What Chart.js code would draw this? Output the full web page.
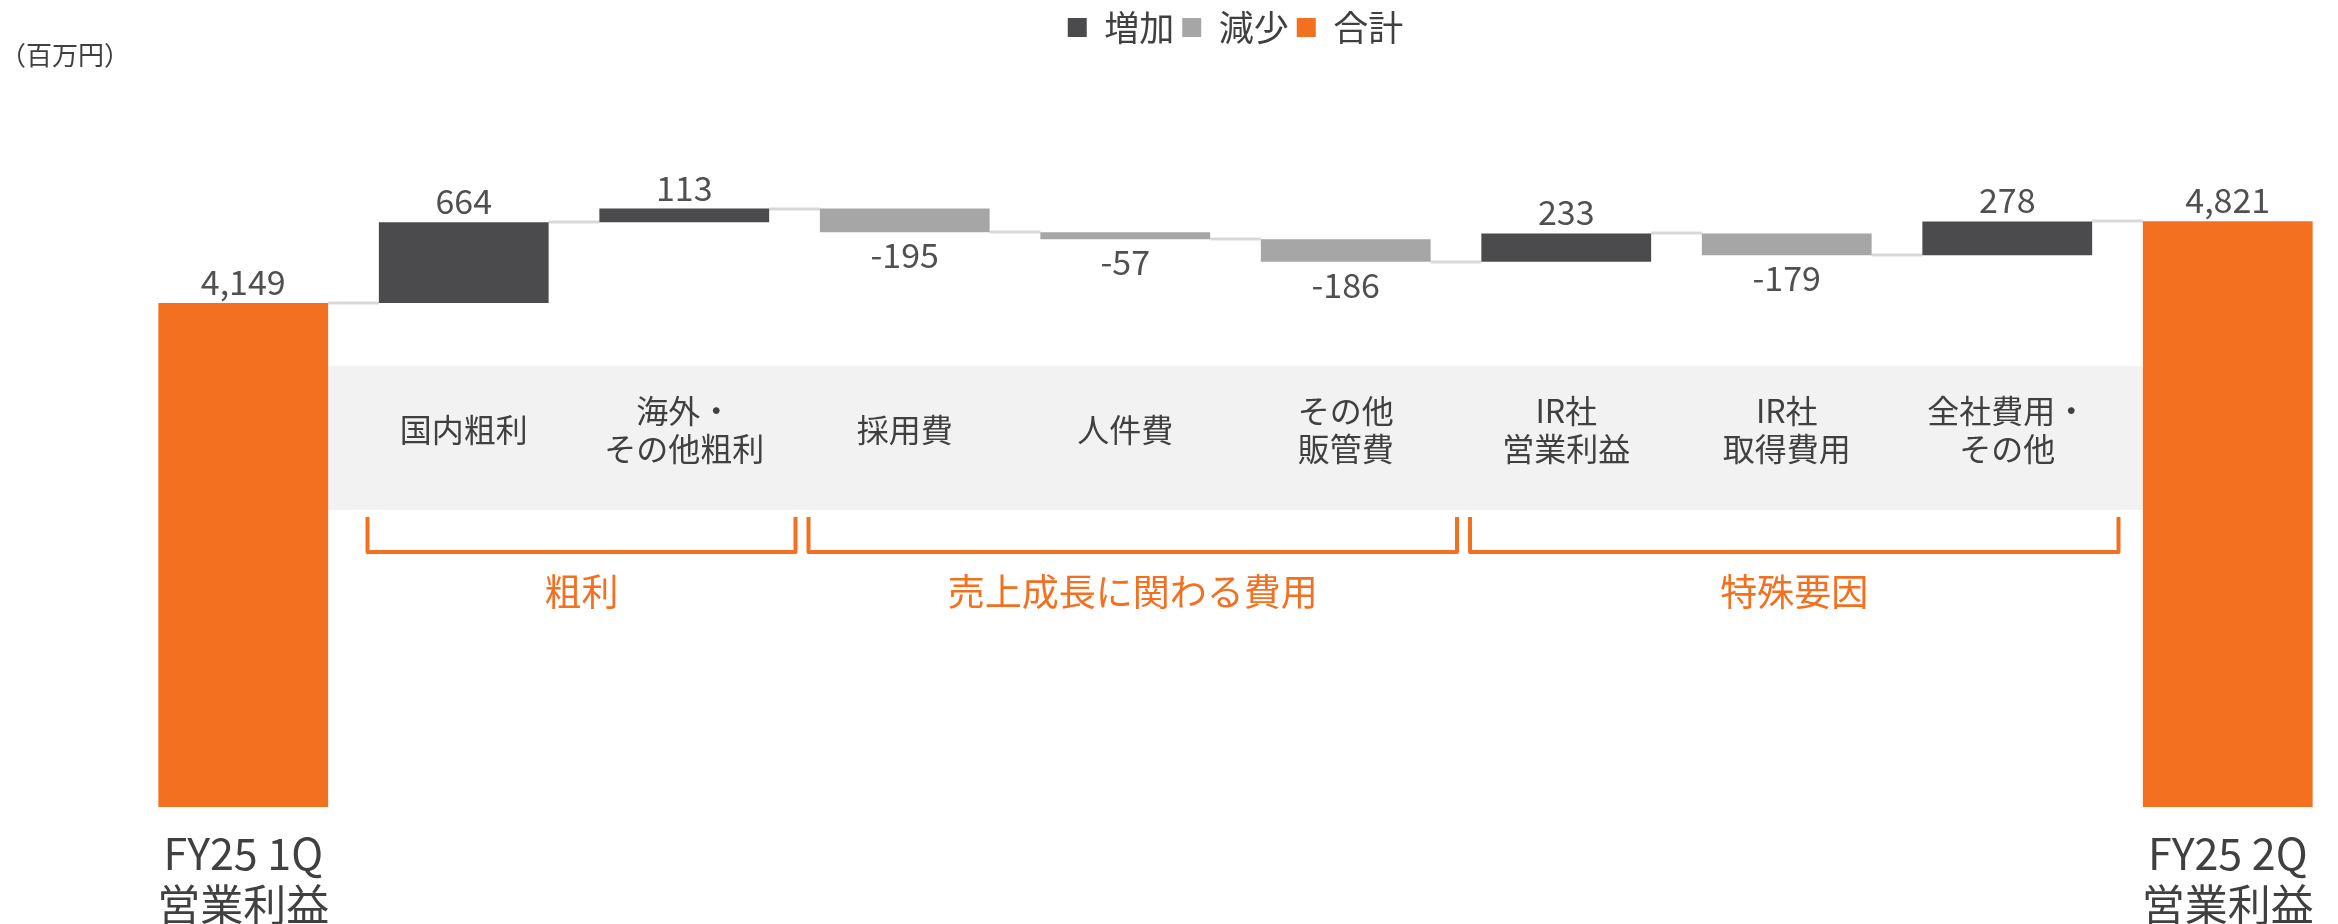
<!DOCTYPE html>
<html>
<head>
<meta charset="utf-8">
<script src="https://cdn.jsdelivr.net/npm/chart.js@4"></script>
<style>
  body { margin: 0; background: #fff; }
</style>
</head>
<body>
<canvas id="grafica" width="2338" height="924"></canvas>
<script>
const categories = ['FY25 1Q 営業利益', '国内粗利', '海外・その他粗利', '採用費', '人件費', 'その他販管費', 'IR社営業利益', 'IR社取得費用', '全社費用・その他', 'FY25 2Q 営業利益'];
const axisLabels = [['FY25 1Q', '営業利益'], '', '', '', '', '', '', '', '', ['FY25 2Q', '営業利益']];
const bandLabels = [null, ['国内粗利'], ['海外・', 'その他粗利'], ['採用費'], ['人件費'], ['その他', '販管費'], ['IR社', '営業利益'], ['IR社', '取得費用'], ['全社費用・', 'その他'], null];

const startTotal = 4149;
const endTotal = 4821;
const changes = [664, 113, -195, -57, -186, 233, -179, 278];

const groupLabels = ['粗利', '売上成長に関わる費用', '特殊要因'];
const groupFirst = [1, 3, 6];
const groupLast = [2, 5, 8];

const FONT = '"Noto Sans CJK JP", "Noto Sans", sans-serif';
const ORANGE = '#f37021';
const TEXT = '#505050';

// running totals -> floating bars
const barValues = [startTotal, ...changes, endTotal];
const levels = [startTotal];
const increaseData = [null];
const decreaseData = [null];
const totalData = [[0, startTotal]];
let running = startTotal;
changes.forEach(c => {
    const next = running + c;
    increaseData.push(c >= 0 ? [running, next] : null);
    decreaseData.push(c < 0 ? [next, running] : null);
    totalData.push(null);
    levels.push(next);
    running = next;
});
increaseData.push(null);
decreaseData.push(null);
totalData.push([0, endTotal]);
levels.push(endTotal);

const barOpts = { grouped: false, barPercentage: 0.77, categoryPercentage: 1 };

function barAt(chart, i) {
    for (let d = 0; d < chart.data.datasets.length; d++) {
        if (chart.data.datasets[d].data[i] != null) return chart.getDatasetMeta(d).data[i];
    }
    return null;
}

const decorations = {
    id: 'decorations',
    beforeDatasetsDraw(chart) {
        const ctx = chart.ctx;
        const x = chart.scales.x, y = chart.scales.y;
        const n = categories.length;
        const first = barAt(chart, 0), last = barAt(chart, n - 1);
        ctx.save();
        // grey band with item names
        const bandL = first.x + first.width / 2, bandR = last.x - last.width / 2;
        ctx.fillStyle = '#f2f2f2';
        ctx.fillRect(bandL, 366, bandR - bandL, 144);
        ctx.fillStyle = '#404040';
        ctx.font = '32px ' + FONT;
        ctx.textAlign = 'center';
        ctx.textBaseline = 'middle';
        bandLabels.forEach((lines, i) => {
            if (!lines) return;
            const cx = x.getPixelForValue(i);
            const y0 = 430 - (lines.length - 1) * 19;
            lines.forEach((t, k) => ctx.fillText(t, cx, y0 + k * 38));
        });
        // connectors
        ctx.strokeStyle = '#d9d9d9';
        ctx.lineWidth = 3;
        for (let i = 0; i < n - 1; i++) {
            const a = barAt(chart, i), b = barAt(chart, i + 1);
            const py = Math.round(y.getPixelForValue(levels[i]));
            ctx.beginPath();
            ctx.moveTo(a.x + a.width / 2, py);
            ctx.lineTo(b.x - b.width / 2, py);
            ctx.stroke();
        }
        // group brackets
        const slot = x.getPixelForValue(1) - x.getPixelForValue(0);
        ctx.strokeStyle = ORANGE;
        ctx.lineWidth = 4;
        ctx.lineJoin = 'round';
        ctx.fillStyle = ORANGE;
        ctx.font = '37px ' + FONT;
        groupLabels.forEach((label, g) => {
            const l = x.getPixelForValue(groupFirst[g]) - slot / 2 + 14;
            const r = x.getPixelForValue(groupLast[g]) + slot / 2 + 1;
            ctx.beginPath();
            ctx.moveTo(l, 517);
            ctx.lineTo(l, 552);
            ctx.lineTo(r, 552);
            ctx.lineTo(r, 517);
            ctx.stroke();
            ctx.fillText(label, (l + r) / 2, 592);
        });
        // unit
        ctx.fillStyle = '#404040';
        ctx.font = '26px ' + FONT;
        ctx.textAlign = 'left';
        ctx.fillText('（百万円）', 0, 55);
        ctx.restore();
    },
    afterDatasetsDraw(chart) {
        const ctx = chart.ctx;
        ctx.save();
        ctx.fillStyle = TEXT;
        ctx.font = '34px ' + FONT;
        ctx.textAlign = 'center';
        ctx.textBaseline = 'alphabetic';
        barValues.forEach((v, i) => {
            const bar = barAt(chart, i);
            const top = Math.min(bar.y, bar.base), bottom = Math.max(bar.y, bar.base);
            const txt = v.toLocaleString('en-US');
            if (v >= 0) ctx.fillText(txt, bar.x, top - 8);
            else ctx.fillText(txt, bar.x, bottom + 36);
        });
        ctx.restore();
    }
};

new Chart(document.getElementById('grafica'), {
    type: 'bar',
    data: {
        labels: categories,
        datasets: [
            { label: '増加', data: increaseData, backgroundColor: '#4b4b4d', ...barOpts },
            { label: '減少', data: decreaseData, backgroundColor: '#a6a6a6', ...barOpts },
            { label: '合計', data: totalData, backgroundColor: ORANGE, ...barOpts }
        ]
    },
    options: {
        responsive: false,
        animation: false,
        layout: { padding: { left: 133, right: 0, top: 2, bottom: 0 } },
        plugins: {
            legend: {
                position: 'top',
                labels: {
                    boxWidth: 19,
                    boxHeight: 19,
                    padding: 8,
                    color: '#404040',
                    font: { family: FONT, size: 35 }
                }
            },
            tooltip: { enabled: false }
        },
        scales: {
            x: {
                grid: { display: false, drawTicks: false },
                border: { display: false },
                ticks: {
                    autoSkip: false,
                    maxRotation: 0,
                    padding: 22,
                    color: '#404040',
                    font: { family: FONT, size: 43, lineHeight: 1.17 },
                    callback: (v, i) => axisLabels[i]
                },
                afterFit(scale) { scale.height = 117; }
            },
            y: { display: false, min: 0, max: 6190 }
        }
    },
    plugins: [decorations]
});
</script>
</body>
</html>
